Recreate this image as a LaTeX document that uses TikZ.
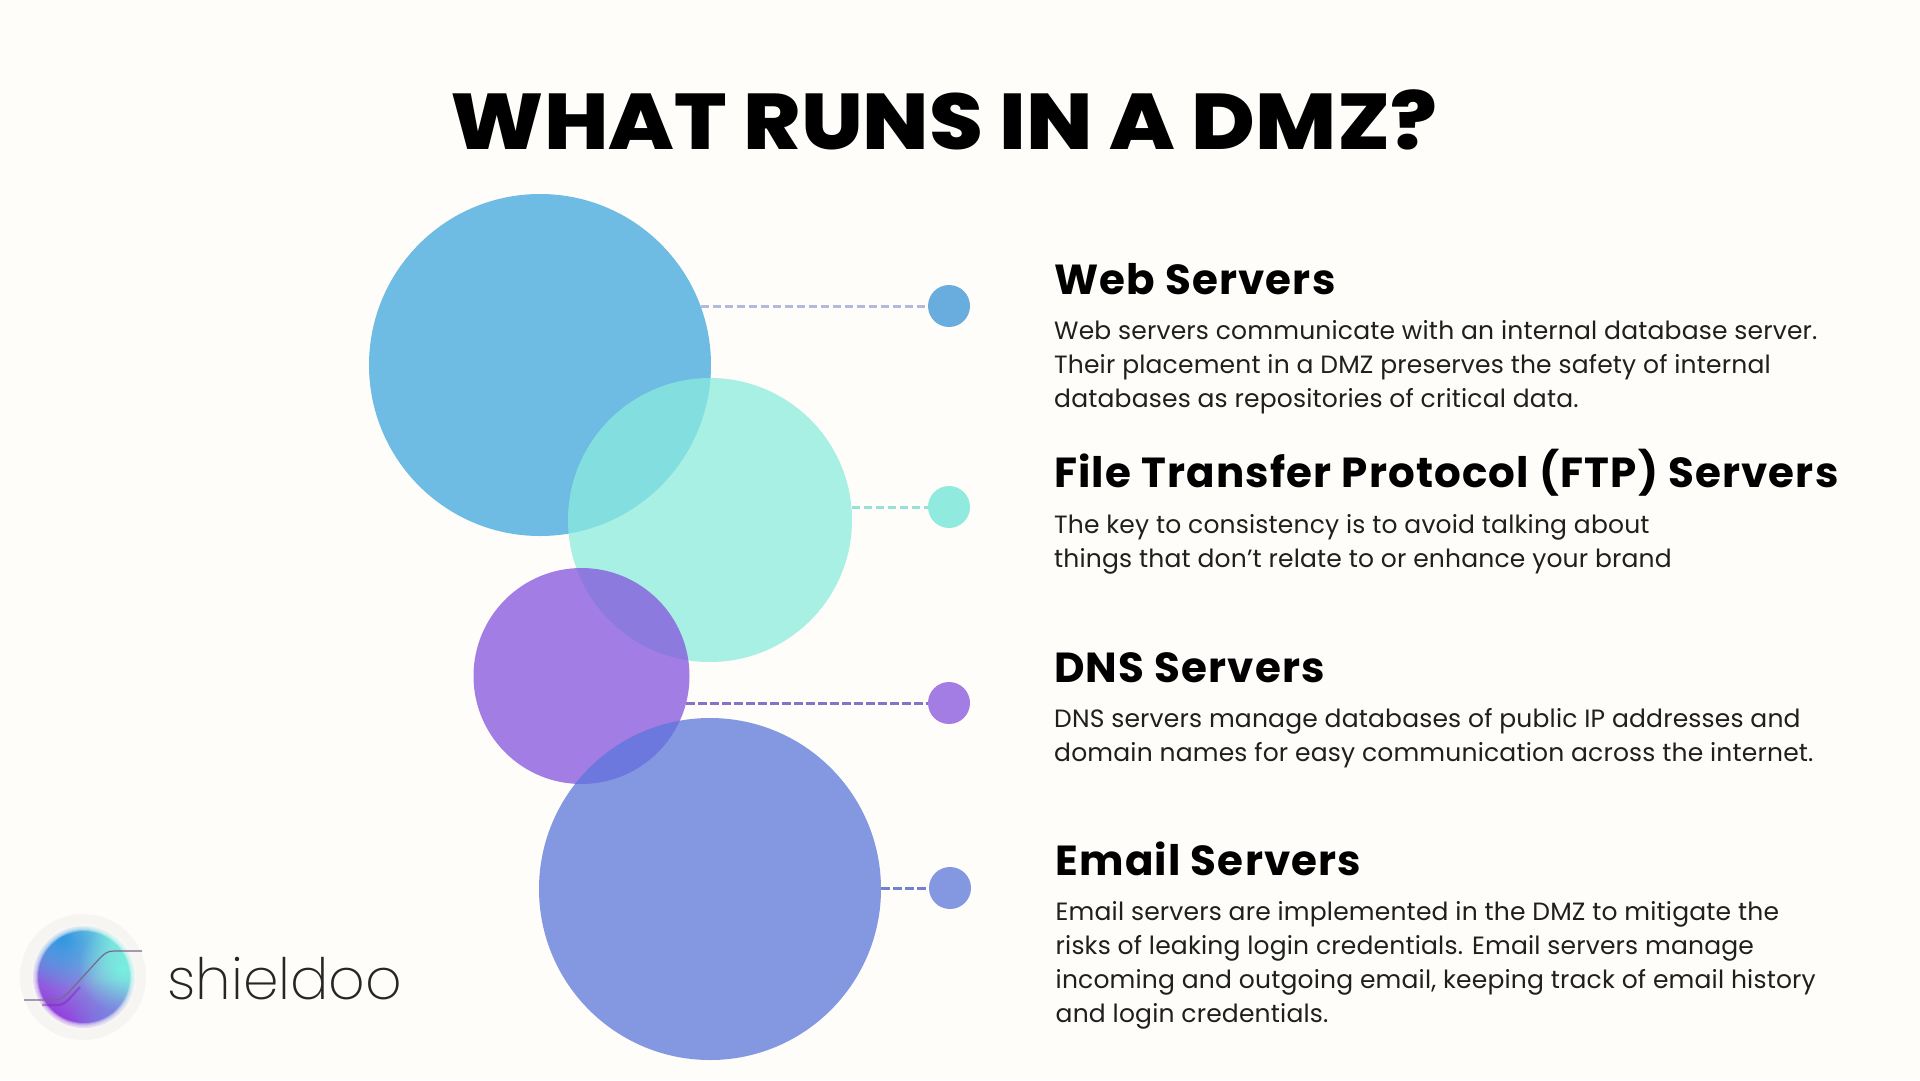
\documentclass[tikz,border=0pt]{standalone}
\usepackage{fontspec}
\usetikzlibrary{fadings}
\setmainfont{Poppins}
\newfontfamily\titlefont[FakeStretch=1.1]{Poppins ExtraBold}
\newfontfamily\headfont[LetterSpace=2.8]{Poppins Bold}
\newfontfamily\bodyfont[LetterSpace=0.7]{Poppins}
\newfontfamily\logofont{Poppins ExtraLight}
\definecolor{bg}{RGB}{255,253,249}
\definecolor{halo}{RGB}{247,245,241}
\definecolor{cA}{RGB}{110,187,227}
\definecolor{cB}{RGB}{139,236,222}
\definecolor{cC}{RGB}{131,83,220}
\definecolor{cD}{RGB}{91,119,219}
\definecolor{dA}{RGB}{105,173,222}
\definecolor{dB}{RGB}{144,234,222}
\definecolor{dC}{RGB}{163,125,227}
\definecolor{dD}{RGB}{132,152,226}
\definecolor{lA}{RGB}{180,185,222}
\definecolor{lB}{RGB}{150,226,216}
\definecolor{lC}{RGB}{135,115,195}
\definecolor{lD}{RGB}{112,132,205}
\definecolor{gP}{RGB}{150,50,222}
\definecolor{gM}{RGB}{120,240,222}
\definecolor{gB}{RGB}{50,150,225}
\definecolor{gL}{RGB}{110,140,225}
\definecolor{gLine}{RGB}{120,105,140}
\tikzfading[name=blob, inner color=transparent!0, outer color=transparent!100]
\tikzset{
  bigc/.style={circle,inner sep=0pt,draw=none,fill opacity=0.75},
  dotn/.style={circle,inner sep=0pt,minimum size=42pt,draw=none},
  link/.style={line width=3pt,dash pattern=on 8.5pt off 3.5pt},
  headn/.style={anchor=base west,inner sep=0pt,font=\headfont\fontsize{42}{42}\selectfont,text=black},
  bodyn/.style={anchor=base west,inner sep=0pt,align=left,font=\bodyfont\fontsize{25}{34}\selectfont,text=black!88},
}
\begin{document}
\begin{tikzpicture}[x=1pt,y=-1pt]
\useasboundingbox (0,0) rectangle (1920,1080);
\fill[bg] (0,0) rectangle (1920,1080);
\node[anchor=base,inner sep=0pt,font=\titlefont\fontsize{79}{79}\selectfont,text=black] (title) at (944,149) {WHAT RUNS IN A DMZ?};
% circles
\node[bigc,minimum size=342pt,fill=cA,fill opacity=1] (c1) at (540,365) {};
\node[bigc,minimum size=284pt,fill=cB] (c2) at (710,520) {};
\node[bigc,minimum size=216pt,fill=cC] (c3) at (581.5,676) {};
\node[bigc,minimum size=342pt,fill=cD] (c4) at (710,889) {};
% dots
\node[dotn,fill=dA] (d1) at (949,306) {};
\node[dotn,fill=dB] (d2) at (949,507) {};
\node[dotn,fill=dC] (d3) at (949,703) {};
\node[dotn,fill=dD] (d4) at (950,888) {};
% links
\draw[link,lA] (c1.20.2 |- d1.west) -- (d1.west);
\draw[link,lB] (c2.5.25 |- d2.west) -- (d2.west);
\draw[link,lC] (c3.-14.5 |- d3.west) -- (d3.west);
\draw[link,lD] (c4.east |- d4.west) -- (d4.west);
% texts
\node[headn] (h1) at (1054,294) {Web Servers};
\node[bodyn] (b1) at (1054,407.5) {Web servers communicate with an internal database server.\\Their placement in a DMZ preserves the safety of internal\\databases as repositories of critical data.};
\node[headn] (h2) at (1054,487.5) {File Transfer Protocol (FTP) Servers};
\node[bodyn] (b2) at (1054,567.5) {The key to consistency is to avoid talking about\\things that don’t relate to or enhance your brand};
\node[headn] (h3) at (1054,682) {DNS Servers};
\node[bodyn] (b3) at (1054,761.5) {DNS servers manage databases of public IP addresses and\\domain names for easy communication across the internet.};
\node[headn] (h4) at (1055.5,875.5) {Email Servers};
\node[bodyn] (b4) at (1055.5,1022.5) {Email servers are implemented in the DMZ to mitigate the\\risks of leaking login credentials. Email servers manage\\incoming and outgoing email, keeping track of email history\\and login credentials.};
% logo
\fill[halo] (83,977) circle (63);
\begin{scope}
\clip (84,977) circle (51);
\shade[left color=gP, right color=gM, shading angle=145] (30,923) rectangle (138,1031);
\fill[gB,path fading=blob] (62,938) circle (50);
\fill[gM,path fading=blob] (124,968) circle (46);
\fill[gL,path fading=blob,fill opacity=.7] (112,1024) circle (44);
\end{scope}
\foreach \ringr in {46,47,48,49,50}{
  \fill[white!50!halo,fill opacity=.3,even odd rule] (84,977) circle (\ringr) (84,977) circle (53);
}
\draw[line width=2.2pt,gP!80!black,opacity=.45] (42,1005) -- (58,1005) .. controls (63,1005) and (66,1002) .. (70,998) -- (80,987);
\draw[line width=1.2pt,gLine] (24,1000) -- (54,1000) .. controls (60,1000) and (63,998) .. (68,993) -- (100,958) .. controls (105,953) and (108,951) .. (114,951) -- (142,951);
\node[anchor=base west,inner sep=0pt,font=\logofont\fontsize{57}{57}\selectfont,text=black!85] (logo) at (167,999) {shieldoo};
\end{tikzpicture}
\end{document}
